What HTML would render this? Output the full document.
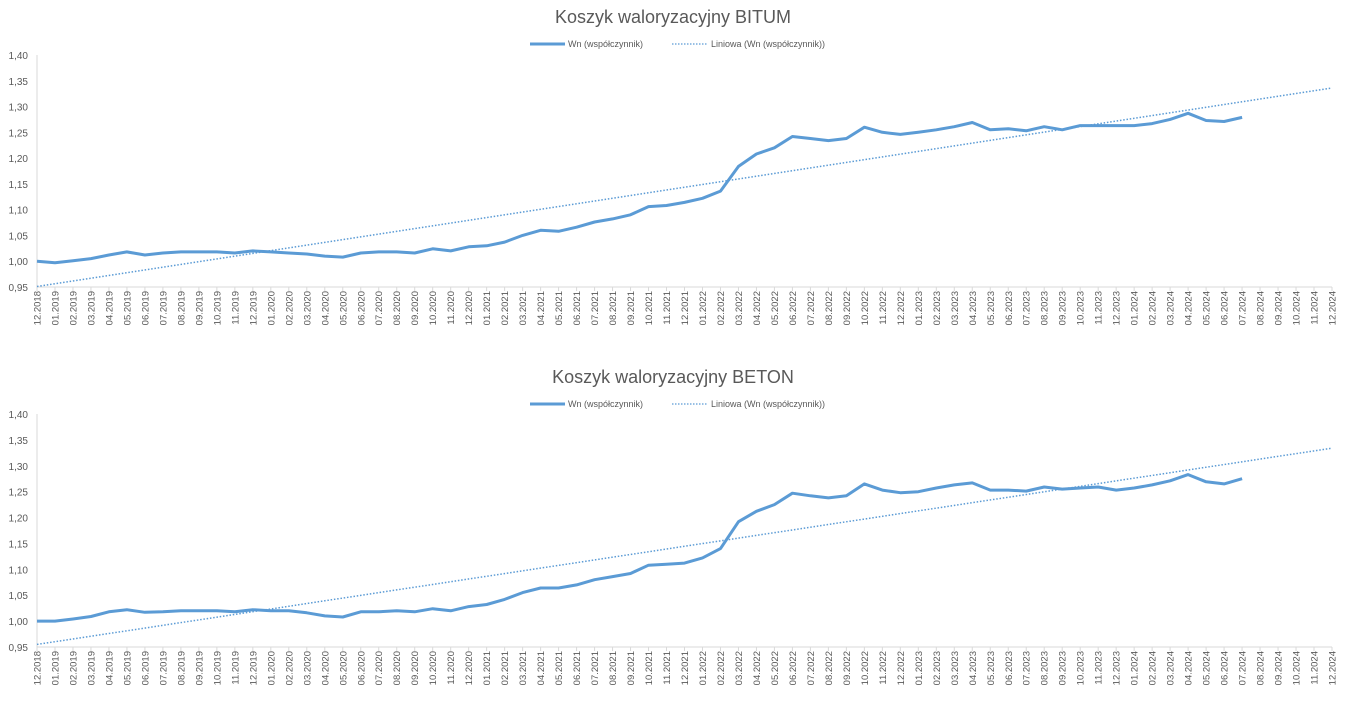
<!DOCTYPE html>
<html><head><meta charset="utf-8"><style>
html,body{margin:0;padding:0;background:#fff;width:1347px;height:703px;overflow:hidden}
svg{display:block;font-family:"Liberation Sans",sans-serif}
</style></head><body>
<svg id="s" width="1347" height="703" xmlns="http://www.w3.org/2000/svg"></svg>
<script>
const bit=[1.000,0.997,1.001,1.005,1.012,1.018,1.012,1.016,1.018,1.018,1.018,1.016,1.020,1.018,1.016,1.014,1.010,1.008,1.016,1.018,1.018,1.016,1.024,1.020,1.028,1.030,1.037,1.050,1.060,1.058,1.066,1.076,1.082,1.090,1.106,1.108,1.114,1.122,1.136,1.184,1.208,1.220,1.242,1.238,1.234,1.238,1.260,1.250,1.246,1.250,1.255,1.261,1.269,1.255,1.257,1.253,1.261,1.255,1.263,1.263,1.263,1.263,1.267,1.275,1.287,1.273,1.271,1.279];
const bet=[1.000,1.000,1.004,1.009,1.018,1.022,1.017,1.018,1.020,1.020,1.020,1.018,1.022,1.020,1.020,1.016,1.010,1.008,1.018,1.018,1.020,1.018,1.024,1.020,1.028,1.032,1.042,1.055,1.064,1.064,1.070,1.080,1.086,1.092,1.108,1.110,1.112,1.122,1.140,1.192,1.212,1.225,1.247,1.242,1.238,1.242,1.265,1.253,1.248,1.250,1.257,1.263,1.267,1.253,1.253,1.251,1.259,1.255,1.257,1.259,1.253,1.257,1.263,1.271,1.283,1.269,1.265,1.275];
const labels=[];labels.push("12.2018");for(let y=2019;y<=2024;y++)for(let m=1;m<=12;m++)labels.push(String(m).padStart(2,"0")+"."+y);
let h="";
function chart(title,data,top,bot,tA,tB,titleY,legY){
 const x0=37,x1=1332,dx=(x1-x0)/72;
 const Y=v=>bot-(v-0.95)/0.45*(bot-top);
 h+=`<text x="673" y="${titleY}" font-size="18" fill="#595959" text-anchor="middle">${title}</text>`;
 h+=`<line x1="530" y1="${legY}" x2="565" y2="${legY}" stroke="#5b9bd5" stroke-width="3"/>`;
 h+=`<text x="568" y="${legY+3}" font-size="9" fill="#595959">Wn (współczynnik)</text>`;
 h+=`<line x1="672" y1="${legY}" x2="707" y2="${legY}" stroke="#5b9bd5" stroke-width="1.3" stroke-dasharray="1.5,1.5"/>`;
 h+=`<text x="711" y="${legY+3}" font-size="9" fill="#595959">Liniowa (Wn (współczynnik))</text>`;
 for(let i=0;i<10;i++){const v=0.95+i*0.05;h+=`<text x="28" y="${Y(v)+4}" font-size="10" fill="#595959" text-anchor="end">${v.toFixed(2).replace(".",",")}</text>`;}
 h+=`<line x1="${x0}" y1="${top}" x2="${x0}" y2="${bot}" stroke="#d9d9d9"/>`;
 h+=`<line x1="${x0}" y1="${bot}" x2="${x1}" y2="${bot}" stroke="#d9d9d9"/>`;
 for(let i=0;i<=72;i++){const x=x0+i*dx;h+=`<line x1="${x}" y1="${bot}" x2="${x}" y2="${bot+4}" stroke="#d9d9d9"/>`;
  h+=`<text transform="translate(${x+3.5},${bot+4}) rotate(-90)" font-size="9.5" fill="#595959" text-anchor="end">${labels[i]}</text>`;}
 h+=`<line x1="${x0}" y1="${Y(tA)}" x2="${x1}" y2="${Y(tB)}" stroke="#5b9bd5" stroke-width="1.5" stroke-dasharray="1.5,1.8"/>`;
 h+=`<polyline fill="none" stroke="#5b9bd5" stroke-width="3" stroke-linejoin="round" points="${data.map((v,i)=>(x0+i*dx).toFixed(1)+","+Y(v).toFixed(1)).join(" ")}"/>`;
}
chart("Koszyk waloryzacyjny BITUM",bit,55,287,0.951,1.336,23,44);
chart("Koszyk waloryzacyjny BETON",bet,414,647,0.955,1.334,383,404);
document.getElementById("s").innerHTML=h;
</script>
</body></html>
